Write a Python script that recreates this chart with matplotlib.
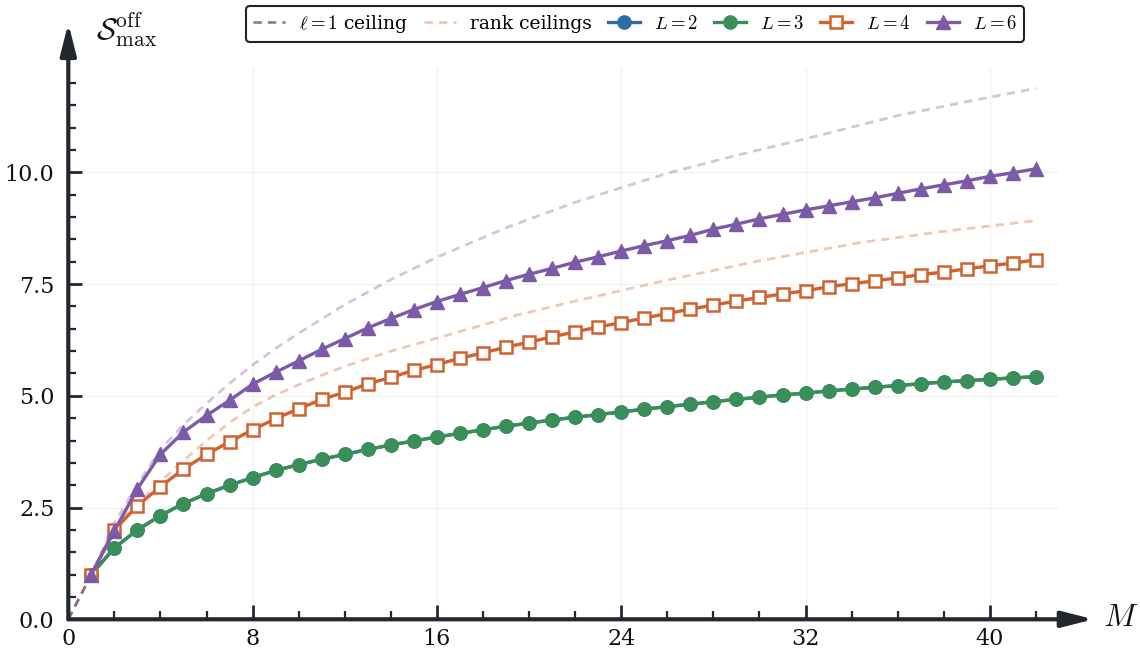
import matplotlib
matplotlib.use("Agg")
import matplotlib.pyplot as plt
import numpy as np

plt.rcParams['font.family'] = ['DejaVu Serif']
plt.rcParams['mathtext.fontset'] = 'cm'

# ---------------- data ----------------
M = list(range(1, 43))

S_L3 = [1.00, 1.60, 2.00, 2.32, 2.59, 2.81, 3.00, 3.17, 3.33, 3.46,
        3.58, 3.69, 3.80, 3.90, 3.99, 4.08, 4.16, 4.24, 4.32, 4.39,
        4.46, 4.52, 4.58, 4.64, 4.70, 4.76, 4.81, 4.87, 4.92, 4.97,
        5.02, 5.06, 5.11, 5.15, 5.19, 5.23, 5.27, 5.31, 5.34, 5.37,
        5.40, 5.43]
S_L2 = list(S_L3)  # hidden under L=3 in the reference

S_L4 = [1.00, 2.00, 2.54, 2.97, 3.36, 3.69, 3.97, 4.24, 4.49, 4.71,
        4.92, 5.08, 5.27, 5.41, 5.57, 5.70, 5.84, 5.96, 6.09, 6.20,
        6.32, 6.43, 6.54, 6.64, 6.74, 6.84, 6.94, 7.03, 7.12, 7.20,
        7.28, 7.35, 7.44, 7.51, 7.57, 7.64, 7.71, 7.77, 7.84, 7.91,
        7.97, 8.04]

S_L6 = [1.00, 1.98, 2.92, 3.69, 4.19, 4.56, 4.90, 5.26, 5.53, 5.78,
        6.04, 6.28, 6.52, 6.73, 6.93, 7.11, 7.27, 7.42, 7.58, 7.72,
        7.85, 7.99, 8.11, 8.24, 8.36, 8.47, 8.59, 8.73, 8.84, 8.96,
        9.06, 9.16, 9.25, 9.34, 9.43, 9.53, 9.63, 9.72, 9.81, 9.91,
        9.99, 10.08]

# ceilings
ceil1_M = [0, 1]
ceil1_S = [0.0, 1.0]

ceil4_M = [0, 1, 2, 3, 4, 5, 6, 7, 8, 9, 10, 11, 12, 14, 16, 19.5, 22, 26, 30, 34.4, 38, 42]
ceil4_S = [0.0, 1.0, 2.05, 2.59, 3.08, 3.55, 4.00, 4.40, 4.75, 5.02, 5.25, 5.46, 5.66, 6.00,
           6.29, 6.81, 7.12, 7.59, 8.02, 8.43, 8.68, 8.92]

ceil6_M = [0, 1, 2, 3, 4, 5, 6, 7, 8, 9, 10, 11, 12, 14, 16, 19, 22, 26, 29, 32, 36, 39, 42]
ceil6_S = [0.0, 1.0, 2.15, 3.02, 3.80, 4.35, 4.83, 5.28, 5.69, 6.06, 6.40, 6.72, 7.04, 7.60,
           8.10, 8.76, 9.33, 9.98, 10.38, 10.75, 11.27, 11.58, 11.88]

series_labels = [r'$L=2$', r'$L=3$', r'$L=4$', r'$L=6$']

# ---------------- style ----------------
c_blue = '#2e6ca4'
c_green = '#3a8e58'
c_orange = '#d0622f'
c_purple = '#7c5aa8'
c_grey = '#6e7385'
c_axis = '#23272e'

fig = plt.figure(figsize=(11.4, 6.48), dpi=100)
ax = fig.add_axes([68.3 / 1140, 28.7 / 648, (1059 - 68.3) / 1140, (619.3 - 67.3) / 648])

ax.set_xlim(0, 43)
ax.set_ylim(0, 12.35)

ax.grid(True, which='major', color='#f1f1f1', lw=0.9, zorder=0)
ax.set_axisbelow(True)

ax.plot(ceil1_M, ceil1_S, ls=(0, (3, 2.2)), color=c_grey, lw=2.0, alpha=0.85,
        label=r'$\ell=1$ ceiling', zorder=2)
ax.plot(ceil4_M, ceil4_S, ls=(0, (3, 2.2)), color=c_orange, lw=2.0, alpha=0.35,
        label='rank ceilings', zorder=2)
ax.plot(ceil6_M, ceil6_S, ls=(0, (3, 2.2)), color=c_purple, lw=2.0, alpha=0.35, zorder=2)

ax.plot(M, S_L2, color=c_blue, lw=2.4, marker='o', ms=9.5, label=series_labels[0], zorder=3)
ax.plot(M, S_L3, color=c_green, lw=2.4, marker='o', ms=9.5, label=series_labels[1], zorder=4)
ax.plot(M, S_L4, color=c_orange, lw=2.4, marker='s', ms=8.5, mfc='white', mec=c_orange,
        mew=1.8, label=series_labels[2], zorder=5)
ax.plot(M, S_L6, color=c_purple, lw=2.4, marker='^', ms=10.5, label=series_labels[3], zorder=6)

# axes / ticks
for s in ['top', 'right', 'left', 'bottom']:
    ax.spines[s].set_visible(False)

ax.set_xticks(np.arange(0, 41, 8))
ax.set_xticks(np.arange(0, 43, 2), minor=True)
ax.set_yticks([0, 2.5, 5.0, 7.5, 10.0])
ax.set_yticks(np.arange(0, 12.3, 0.5), minor=True)
ax.set_yticklabels(['0.0', '2.5', '5.0', '7.5', '10.0'])
ax.tick_params(which='major', direction='in', length=10, width=2.0, color=c_axis,
               labelsize=16, labelcolor='#111111', pad=10)
ax.tick_params(which='minor', direction='in', length=6, width=1.6, color=c_axis)
ax.tick_params(axis='x', which='major', pad=6)

# arrows for axes
arrow_style = '-|>,head_length=0.95,head_width=0.24'
ax.annotate('', xy=(0, 1.08), xycoords='axes fraction', xytext=(0, 0),
            textcoords='axes fraction',
            arrowprops=dict(arrowstyle=arrow_style, color=c_axis, lw=3.0,
                            shrinkA=0, shrinkB=0, mutation_scale=20),
            annotation_clip=False, zorder=10)
ax.annotate('', xy=(1.035, 0), xycoords='axes fraction', xytext=(0, 0),
            textcoords='axes fraction',
            arrowprops=dict(arrowstyle=arrow_style, color=c_axis, lw=3.0,
                            shrinkA=0, shrinkB=0, mutation_scale=20),
            annotation_clip=False, zorder=10)

fig.text(96 / 1140, 1 - 30 / 648, r'$\mathcal{S}_{\max}^{\mathrm{off}}$', fontsize=22,
         ha='left', va='center', color='#111111')
fig.text(1103 / 1140, 1 - 617 / 648, r'$M$', fontsize=23, ha='left', va='center',
         color='#111111')

leg = fig.legend(loc='center', bbox_to_anchor=(635 / 1140, 1 - 24 / 648), ncol=6,
                 fontsize=13.5, frameon=True, fancybox=True, handlelength=1.7,
                 columnspacing=0.85, handletextpad=0.75, borderpad=0.35)
leg.get_frame().set_edgecolor('#222222')
leg.get_frame().set_linewidth(1.5)
leg.get_frame().set_facecolor('white')
leg.get_frame().set_alpha(1.0)

fig.savefig('out.png', dpi=100)
